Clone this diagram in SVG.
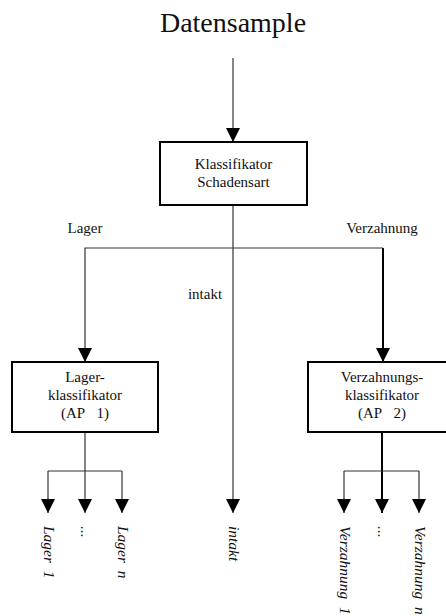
<svg xmlns="http://www.w3.org/2000/svg" width="446" height="616" viewBox="0 0 446 616">
<style>
text{font-family:"Liberation Serif","Times New Roman",serif;fill:#111}
.lbl{font-size:15px;text-anchor:middle}
.rot{font-size:15.5px;font-style:italic}
.box{fill:#fff;stroke:#000;stroke-width:2}
.thin{fill:none;stroke:#333;stroke-width:1.2}
.thick{fill:none;stroke:#000;stroke-width:2}
</style>
<defs>
<marker id="ah" markerUnits="userSpaceOnUse" markerWidth="14" markerHeight="14" refX="14" refY="7" orient="auto" viewBox="0 0 14 14">
<path d="M0,0 L14,7 L0,14 z" fill="#000"/>
</marker>
</defs>
<rect width="446" height="616" fill="#fff"/>
<text id="title" x="233" y="32" font-size="28" text-anchor="middle">Datensample</text>
<g id="connectors">
<line class="thin" x1="233" y1="58" x2="233" y2="142" marker-end="url(#ah)"/>
<line class="thin" x1="233" y1="205" x2="233" y2="513" marker-end="url(#ah)"/>
<polyline class="thin" points="233,248 85,248 85,362" marker-end="url(#ah)"/>
<line class="thin" x1="233" y1="248" x2="383" y2="248"/>
<line class="thick" x1="383" y1="248" x2="383" y2="362" marker-end="url(#ah)"/>
<line class="thin" x1="85" y1="432" x2="85" y2="513" marker-end="url(#ah)"/>
<line class="thin" x1="48" y1="471" x2="122" y2="471"/>
<line class="thin" x1="48" y1="471" x2="48" y2="513" marker-end="url(#ah)"/>
<line class="thin" x1="122" y1="471" x2="122" y2="513" marker-end="url(#ah)"/>
<line class="thick" x1="382" y1="432" x2="382" y2="513" marker-end="url(#ah)"/>
<line class="thin" x1="344" y1="471" x2="419" y2="471"/>
<line class="thin" x1="344" y1="471" x2="344" y2="513" marker-end="url(#ah)"/>
<line class="thin" x1="419" y1="471" x2="419" y2="513" marker-end="url(#ah)"/>
</g>
<g id="edge-labels">
<text class="lbl" x="85" y="233">Lager</text>
<text class="lbl" x="382" y="233">Verzahnung</text>
<text class="lbl" x="205" y="299">intakt</text>
</g>
<g id="node-schadensart">
<rect class="box" x="160" y="142" width="147" height="63"/>
<text class="lbl" x="233.5" y="169">Klassifikator</text>
<text class="lbl" x="233.5" y="187">Schadensart</text>
</g>
<g id="node-lager">
<rect class="box" x="12" y="362" width="146" height="70"/>
<text class="lbl" x="85" y="382">Lager-</text>
<text class="lbl" x="85" y="400">klassifikator</text>
<text class="lbl" x="85" y="418">(AP&#160;&#160;&#160;1)</text>
</g>
<g id="node-verzahnung">
<rect class="box" x="308" y="362" width="150" height="70"/>
<text class="lbl" x="382" y="382">Verzahnungs-</text>
<text class="lbl" x="382" y="400">klassifikator</text>
<text class="lbl" x="382" y="418">(AP&#160;&#160;&#160;2)</text>
</g>
<g id="outputs">
<text class="rot" transform="translate(44,526) rotate(90)">Lager&#160;&#160;1</text>
<text class="rot" transform="translate(81,526) rotate(90)">...</text>
<text class="rot" transform="translate(118,526) rotate(90)">Lager&#160;&#160;n</text>
<text class="rot" transform="translate(229,526) rotate(90)">intakt</text>
<text class="rot" transform="translate(340,526) rotate(90)">Verzahnung&#160;&#160;1</text>
<text class="rot" transform="translate(378,526) rotate(90)">...</text>
<text class="rot" transform="translate(415,526) rotate(90)">Verzahnung&#160;&#160;n</text>
</g>
</svg>
